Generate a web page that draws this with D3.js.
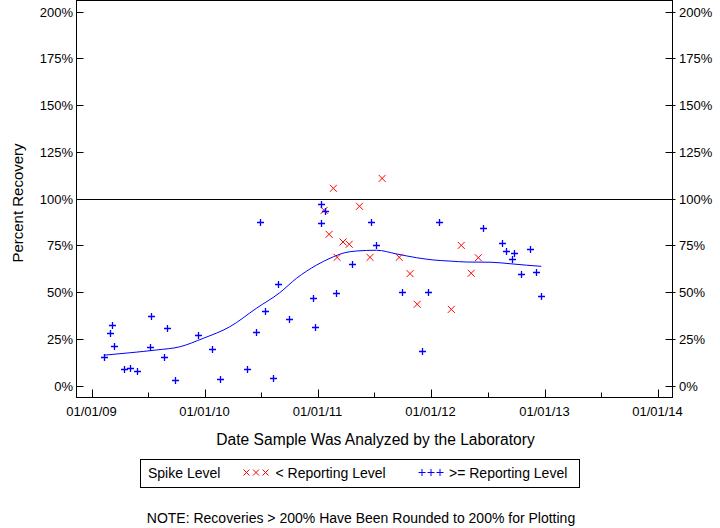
<!DOCTYPE html>
<html>
<head>
<meta charset="utf-8">
<script src="https://cdn.jsdelivr.net/npm/d3@7"></script>
<style>
html,body{margin:0;padding:0;background:#fff;}
svg{display:block;font-family:"Liberation Sans",Arial,sans-serif;}
</style>
</head>
<body>
<svg id="chart" width="720" height="528"></svg>
<script>
// ---- data ----
const blueDates = ["2009-02-09","2009-03-01","2009-03-09","2009-03-14","2009-04-14","2009-05-04","2009-05-26","2009-07-11","2009-07-08","2009-09-01","2009-08-23","2009-09-28","2009-12-10","2010-01-24","2010-02-17","2010-05-17","2010-06-15","2010-07-15","2010-08-09","2010-08-24","2010-06-28","2010-09-30","2010-12-16","2010-12-22","2011-01-09","2011-01-10","2011-01-22","2011-02-28","2011-04-20","2011-06-20","2011-07-06","2011-09-28","2011-12-01","2011-12-22","2012-01-26","2012-06-16","2012-08-14","2012-08-29","2012-09-24","2012-09-17","2012-11-14","2012-10-16","2012-12-04","2012-12-20"];
const blueValues = [15.2,28.0,32.6,21.0,8.8,9.3,7.9,37.3,20.7,30.8,15.2,3.0,26.9,19.6,3.4,8.8,28.5,39.8,4.1,54.2,87.3,35.5,46.9,31.5,97.0,87.0,93.4,49.4,64.9,87.3,75.0,49.9,18.4,49.9,87.3,84.1,76.3,72.0,70.8,67.9,72.9,59.5,60.6,47.8];
const redDates = ["2011-02-19","2011-07-26","2011-01-20","2011-05-14","2011-02-05","2011-03-22","2011-04-11","2011-03-03","2011-06-17","2011-09-19","2011-10-24","2011-11-16","2012-04-06","2012-05-31","2012-05-08","2012-03-05"];
const redValues = [105.5,110.8,93.7,95.9,80.9,76.8,75.6,68.6,68.6,68.6,59.9,43.5,75.0,68.4,60.1,40.8];
const curveDates = ["2009-02-09","2009-05-04","2009-07-29","2009-10-12","2009-12-26","2010-03-22","2010-06-16","2010-08-30","2010-10-23","2010-12-27","2011-02-08","2011-03-28","2011-05-05","2011-07-08","2011-09-11","2011-11-14","2012-01-07","2012-03-01","2012-04-24","2012-07-08","2012-09-10","2012-11-03","2012-12-20"];
const curveValues = [16.3,17.6,19.1,20.8,25.3,31.5,41.4,49.7,57.4,64.5,68.1,71.1,72.0,72.4,70.4,68.4,67.2,66.6,66.1,66.0,65.2,64.4,63.8];
const yTicks = [0,25,50,75,100,125,150,175,200];
const xTickDates = ["2009-01-01","2010-01-01","2011-01-01","2012-01-01","2013-01-01","2014-01-01"];
const xTickLabels = ["01/01/09","01/01/10","01/01/11","01/01/12","01/01/13","01/01/14"];
const xMinorDates = ["2009-07-01","2010-07-01","2011-07-01","2012-07-01","2013-07-01"];
const referenceLine = 100;

// ---- layout ----
const parse = d3.utcParse("%Y-%m-%d");
const L = 76.5, R = 672.5, T = 0.5, B = 397.5;
const svg = d3.select("#chart");
const x = d3.scaleUtc().domain([parse("2009-01-01"), parse("2014-01-01")]).range([91.7, 658.3]);
const y = d3.scaleLinear().domain([0, 200]).range([385.7, 11.5]);

// frame
svg.append("rect").attr("x", L).attr("y", T).attr("width", R - L).attr("height", B - T)
  .attr("fill", "none").attr("stroke", "#000").attr("stroke-width", 1);

// reference line
svg.append("line").attr("x1", L).attr("x2", R)
  .attr("y1", Math.round(y(referenceLine)) + 0.5).attr("y2", Math.round(y(referenceLine)) + 0.5)
  .attr("stroke", "#000").attr("stroke-width", 1.2);

// y ticks + labels (left & right)
const yg = svg.append("g");
yTicks.forEach(v => {
  const yy = Math.round(y(v)) + 0.5;
  yg.append("line").attr("x1", L).attr("x2", L + 7).attr("y1", yy).attr("y2", yy).attr("stroke", "#000");
  yg.append("line").attr("x1", R - 7).attr("x2", R + 3).attr("y1", yy).attr("y2", yy).attr("stroke", "#000");
  yg.append("text").attr("x", 73).attr("y", yy).attr("dy", "0.36em").attr("text-anchor", "end")
    .attr("font-size", 13).text(v + "%");
  yg.append("text").attr("x", 679).attr("y", yy).attr("dy", "0.36em").attr("text-anchor", "start")
    .attr("font-size", 13).text(v + "%");
});

// x ticks
xTickDates.forEach((d, i) => {
  const xx = Math.round(x(parse(d))) + 0.5;
  svg.append("line").attr("x1", xx).attr("x2", xx).attr("y1", B - 8).attr("y2", B).attr("stroke", "#000");
  svg.append("text").attr("x", xx - 1).attr("y", 411).attr("dy", "0.36em").attr("text-anchor", "middle")
    .attr("font-size", 13).text(xTickLabels[i]);
});
xMinorDates.forEach(d => {
  const xx = Math.round(x(parse(d))) + 0.5;
  svg.append("line").attr("x1", xx).attr("x2", xx).attr("y1", B - 5).attr("y2", B).attr("stroke", "#000");
});

// axis titles
svg.append("text").attr("x", 375.5).attr("y", 439).attr("dy", "0.36em").attr("text-anchor", "middle")
  .attr("font-size", 15.6).text("Date Sample Was Analyzed by the Laboratory");
svg.append("text").attr("transform", "translate(18,203) rotate(-90)").attr("dy", "0.36em")
  .attr("text-anchor", "middle").attr("font-size", 15).text("Percent Recovery");

// smooth curve
const curveData = curveDates.map((d, i) => ({ d: parse(d), v: curveValues[i] }));
svg.append("path").datum(curveData)
  .attr("d", d3.line().x(p => x(p.d)).y(p => y(p.v)).curve(d3.curveMonotoneX))
  .attr("fill", "none").attr("stroke", "#0000ff").attr("stroke-width", 1);

// markers
const s = 3.5;
const plusPath = (cx, cy) => `M${cx - s},${cy}H${cx + s}M${cx},${cy - s}V${cy + s}`;
const xPath = (cx, cy) => `M${cx - s},${cy - s}L${cx + s},${cy + s}M${cx - s},${cy + s}L${cx + s},${cy - s}`;

svg.append("g").selectAll("path").data(redDates.map((d, i) => ({ d: parse(d), v: redValues[i] })))
  .join("path").attr("d", p => xPath(x(p.d), y(p.v)))
  .attr("stroke", "#ff0000").attr("stroke-width", 1).attr("fill", "none");
svg.append("g").selectAll("path").data(blueDates.map((d, i) => ({ d: parse(d), v: blueValues[i] })))
  .join("path").attr("d", p => plusPath(Math.round(x(p.d)) + 0.5, Math.round(y(p.v)) + 0.5))
  .attr("stroke", "#0000ff").attr("stroke-width", 1.3).attr("fill", "none");

// legend
const lg = svg.append("g");
lg.append("rect").attr("x", 140.5).attr("y", 459.5).attr("width", 439).attr("height", 28)
  .attr("fill", "none").attr("stroke", "#000");
lg.append("text").attr("x", 148).attr("y", 473).attr("dy", "0.36em").attr("font-size", 14).text("Spike Level");
[0, 1, 2].forEach(k => {
  const cx = 246.5 + k * 9.5, cy = 472.5;
  const ss = 3;
  lg.append("path").attr("d", `M${cx - ss},${cy - ss}L${cx + ss},${cy + ss}M${cx - ss},${cy + ss}L${cx + ss},${cy - ss}`)
    .attr("stroke", "#ff0000").attr("fill", "none");
  const bx = 422 + k * 9;
  lg.append("path").attr("d", `M${bx - 3.5},${cy}H${bx + 3.5}M${bx},${cy - 3.5}V${cy + 3.5}`)
    .attr("stroke", "#0000ff").attr("fill", "none");
});
lg.append("text").attr("x", 275.5).attr("y", 473).attr("dy", "0.36em").attr("font-size", 14).text("< Reporting Level");
lg.append("text").attr("x", 449).attr("y", 473).attr("dy", "0.36em").attr("font-size", 14).text(">= Reporting Level");

// note
svg.append("text").attr("x", 361).attr("y", 518).attr("dy", "0.36em").attr("text-anchor", "middle")
  .attr("font-size", 14).text("NOTE: Recoveries > 200% Have Been Rounded to 200% for Plotting");
</script>
</body>
</html>
